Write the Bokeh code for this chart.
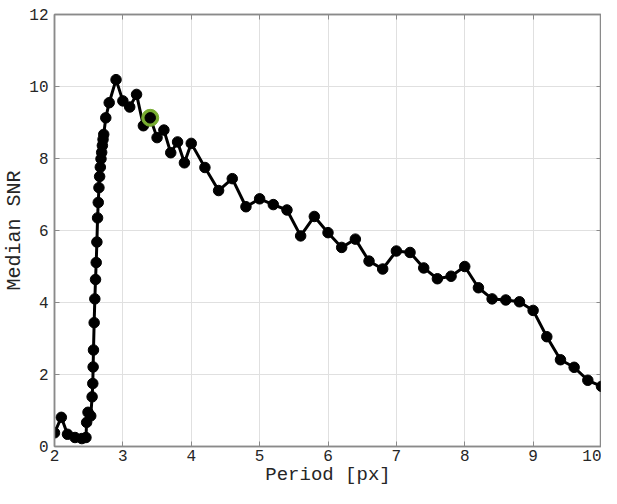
from bokeh.plotting import figure
from bokeh.models import LinearAxis, FixedTicker, Range1d
from bokeh.embed import file_html
from bokeh.resources import INLINE

period = [2.0, 2.1, 2.19, 2.3, 2.4, 2.46, 2.47, 2.49, 2.53, 2.55, 2.56, 2.565, 2.57, 2.58,
          2.59, 2.60, 2.61, 2.62, 2.63, 2.64, 2.65, 2.66, 2.67, 2.68, 2.69, 2.70, 2.71, 2.72,
          2.75, 2.80, 2.90, 3.0, 3.1, 3.2, 3.3, 3.4, 3.5, 3.6, 3.7, 3.8, 3.9, 4.0, 4.2, 4.4,
          4.6, 4.8, 5.0, 5.2, 5.4, 5.6, 5.8, 6.0, 6.2, 6.4, 6.6, 6.8, 7.0, 7.2, 7.4, 7.6, 7.8,
          8.0, 8.2, 8.4, 8.6, 8.8, 9.0, 9.2, 9.4, 9.6, 9.8, 10.0]
snr = [0.38, 0.81, 0.34, 0.25, 0.22, 0.25, 0.67, 0.95, 0.85, 1.38, 1.75, 2.21, 2.68, 3.44,
       4.10, 4.64, 5.11, 5.68, 6.35, 6.78, 7.19, 7.50, 7.76, 7.99, 8.17, 8.36, 8.53, 8.67,
       9.13, 9.55, 10.19, 9.60, 9.43, 9.78, 8.91, 9.13, 8.58, 8.79, 8.16, 8.46, 7.88, 8.42,
       7.75, 7.11, 7.44, 6.66, 6.88, 6.72, 6.57, 5.85, 6.39, 5.94, 5.53, 5.76, 5.15, 4.93,
       5.43, 5.39, 4.96, 4.66, 4.73, 5.00, 4.41, 4.10, 4.07, 4.02, 3.78, 3.05, 2.41, 2.20,
       1.84, 1.67]
best_period = [3.4]
best_snr = [9.13]

x_ticks = [2, 3, 4, 5, 6, 7, 8, 9, 10]
y_ticks = [0, 2, 4, 6, 8, 10, 12]

FONT = "Liberation Mono"
TXT = "#262626"
AX = "#8a8a8a"

p = figure(width=601, height=488, output_backend="svg", toolbar_location=None,
           x_range=Range1d(2, 10), y_range=Range1d(0, 12),
           min_border_left=10, min_border_top=14, min_border_right=0, min_border_bottom=10)
p.background_fill_color = "white"
p.border_fill_color = "white"
p.outline_line_color = AX
p.outline_line_width = 1.5

for ax in (p.xaxis[0], p.yaxis[0]):
    ax.major_tick_in = 5
    ax.major_tick_out = 0
    ax.minor_tick_line_color = None
    ax.axis_line_color = AX
    ax.axis_line_width = 1.5
    ax.major_tick_line_color = AX
    ax.major_label_text_font = FONT
    ax.major_label_text_font_size = "16px"
    ax.major_label_text_color = TXT
    ax.axis_label_text_font = FONT
    ax.axis_label_text_font_style = "normal"
    ax.axis_label_text_color = TXT

p.xaxis[0].axis_label_text_font_size = "19px"
p.yaxis[0].axis_label_text_font_size = "20px"
p.xaxis[0].ticker = FixedTicker(ticks=x_ticks)
p.yaxis[0].ticker = FixedTicker(ticks=y_ticks)
p.xaxis[0].axis_label = "Period [px]"
p.yaxis[0].axis_label = "Median SNR"
p.xaxis[0].major_label_standoff = 3
p.yaxis[0].major_label_standoff = 6
p.xaxis[0].axis_label_standoff = 0
p.yaxis[0].axis_label_standoff = 0

for loc, tk in (("above", x_ticks), ("right", y_ticks)):
    a = LinearAxis(ticker=FixedTicker(ticks=tk), major_tick_in=5, major_tick_out=0,
                   minor_tick_line_color=None, axis_line_color=AX, axis_line_width=1.5,
                   major_tick_line_color=AX, major_label_standoff=0,
                   major_label_overrides={t: "" for t in tk})
    p.add_layout(a, loc)

p.xgrid.ticker = FixedTicker(ticks=x_ticks)
p.ygrid.ticker = FixedTicker(ticks=y_ticks)
p.grid.grid_line_color = "#e0e0e0"
p.grid.grid_line_width = 1

p.line(period, snr, line_color="black", line_width=3)
p.scatter(period, snr, size=10.5, fill_color="black", line_color="black")
p.scatter(best_period, best_snr, size=17, fill_color="#77ac30", line_color="#77ac30")
p.scatter(best_period, best_snr, size=10.5, fill_color="black", line_color="black")

open("out.html", "w").write(file_html(p, INLINE))
